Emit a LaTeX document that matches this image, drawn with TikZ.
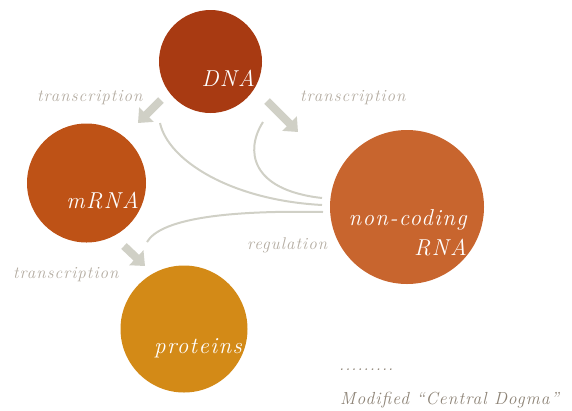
\documentclass[tikz,border=0pt]{standalone}
\usepackage{fontspec}
\usepackage{xcolor}
\usetikzlibrary{arrows.meta}

\definecolor{dnacol}{HTML}{A83A12}
\definecolor{mrnacol}{HTML}{BE5216}
\definecolor{ncrnacol}{HTML}{C8652E}
\definecolor{protcol}{HTML}{D38A17}
\definecolor{flowgray}{HTML}{D0D0C6}
\definecolor{labelgray}{HTML}{B3ABA0}
\definecolor{notegray}{HTML}{8C8275}

\newfontfamily\spacedit[LetterSpace=6]{Latin Modern Roman}

\tikzset{
  blob/.style={circle, draw=none, inner sep=0pt},
  blobtext/.style={text=white, font=\spacedit\itshape\fontsize{23}{23}\selectfont, anchor=base east, inner sep=0pt},
  steplabel/.style={text=labelgray, font=\spacedit\itshape\fontsize{17}{17}\selectfont, anchor=base west, inner sep=0pt},
  bigarrow/.style={draw=flowgray, line width=8pt, -{Triangle[width=20pt,length=12pt]}},
  regline/.style={draw=flowgray, line width=2pt}
}

\begin{document}
\begin{tikzpicture}[x=1pt,y=-1pt]
        \useasboundingbox (0,0) rectangle (572,410);

        % the four molecules
        \node[blob, fill=dnacol, minimum size=103pt] (dna) at (210.5,61.5) {};
        \node[blob, fill=mrnacol, minimum size=119pt] (mrna) at (86.5,183) {};
        \node[blob, fill=ncrnacol, minimum size=154pt] (ncrna) at (407,207) {};
        \node[blob, fill=protcol, minimum size=127pt] (prot) at (184,329) {};

        \node[blobtext] (dnatext) at (255,86) {DNA};
        \node[blobtext] (mrnatext) at (139,208) {mRNA};
        \node[blobtext] (nctext) at (467,225) {non-coding};
        \node[blobtext] (rnatext) at (467,255) {RNA};
        \node[blobtext] (prottext) at (242,353) {proteins};

        % transcription arrows
        \coordinate (dnaleft) at (161,100);
        \coordinate (mrnatop) at (138,123);
        \coordinate (dnaright) at (267,101);
        \coordinate (ncrnatop) at (298,132);
        \coordinate (mrnalow) at (124,246);
        \coordinate (prottop) at (145,266);
        \draw[bigarrow] (dnaleft) -- (mrnatop);
        \draw[bigarrow] (dnaright) -- (ncrnatop);
        \draw[bigarrow] (mrnalow) -- (prottop);

        % regulation lines
        \coordinate (rega) at (322,205);
        \coordinate (regb) at (322,198);
        \coordinate (regc) at (323,212);
        \coordinate (toa) at (160,123);
        \coordinate (tob) at (263,122);
        \coordinate (toc) at (147,242);
        \draw[regline] (toa) .. controls (168,160) and (230,200) .. (rega);
        \draw[regline] (tob) .. controls (245,150) and (250,190) .. (regb);
        \draw[regline] (regc) .. controls (220,210) and (160,220) .. (toc);

        % labels
        \node[steplabel] (tleft) at (37,101) {transcription};
        \node[steplabel] (tright) at (300,101) {transcription};
        \node[steplabel] (tlow) at (13,278) {transcription};
        \node[steplabel] (reg) at (247,249) {regulation};

        \node[steplabel, text=notegray] (dots) at (339,370) {.........};
        \node[steplabel, text=notegray, font=\spacedit\itshape\fontsize{17.5}{17.5}\selectfont] (note) at (340,404) {Modified “Central Dogma”};
    \end{tikzpicture}
\end{document}
